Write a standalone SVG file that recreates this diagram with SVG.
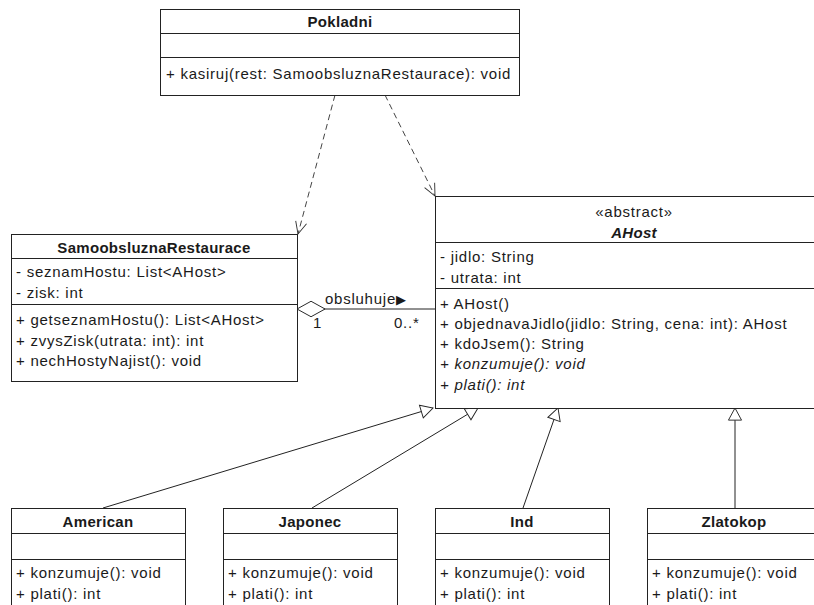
<svg xmlns="http://www.w3.org/2000/svg" width="814" height="605" viewBox="0 0 814 605">
<style>
text{font-family:"Liberation Sans",Arial,"DejaVu Sans",sans-serif;font-size:15px;letter-spacing:0.75px;fill:#1a1a1a}
.t{font-weight:bold;text-anchor:middle;letter-spacing:0.3px}
.c{text-anchor:middle}
.i{font-style:italic}
.bx{fill:#fff;stroke:#222;stroke-width:1}
.sep{stroke:#222;stroke-width:1}
.dep{stroke:#444;stroke-width:1;fill:none;stroke-dasharray:6,4;marker-end:url(#open)}
.gen{stroke:#222;stroke-width:1;fill:none;marker-end:url(#tri)}
.asc{stroke:#222;stroke-width:1;fill:none;marker-start:url(#dia)}
.arr{font-size:13px;letter-spacing:0}
</style>
<defs>
<marker id="tri" markerUnits="userSpaceOnUse" markerWidth="14" markerHeight="16" viewBox="-1 -1 15 16" refX="13" refY="7" orient="auto" overflow="visible"><path d="M0,0 L13,7 L0,14 Z" fill="#fff" stroke="#222" stroke-width="1"/></marker>
<marker id="open" markerUnits="userSpaceOnUse" markerWidth="14" markerHeight="14" viewBox="-1 -1 15 14" refX="13" refY="6" orient="auto" overflow="visible"><path d="M0,0 L13,6 L0,12" fill="none" stroke="#333" stroke-width="1"/></marker>
<marker id="dia" markerUnits="userSpaceOnUse" markerWidth="30" markerHeight="18" viewBox="-1 -1 31 18" refX="0" refY="8" orient="auto" overflow="visible"><path d="M0,8 L14.5,0 L29,8 L14.5,16 Z" fill="#fff" stroke="#222" stroke-width="1"/></marker>
</defs>
<g id="connectors">
<line class="dep" x1="335" y1="95" x2="298" y2="234"/>
<line class="dep" x1="385" y1="95" x2="435" y2="196"/>
<line class="gen" x1="103" y1="508" x2="433" y2="408"/>
<line class="gen" x1="312" y1="508" x2="478" y2="408"/>
<line class="gen" x1="523" y1="508" x2="558" y2="408"/>
<line class="gen" x1="735" y1="508" x2="735" y2="408"/>
<line class="asc" x1="297" y1="309" x2="435" y2="309"/>
<text x="325" y="304">obsluhuje<tspan class="arr">▶</tspan></text>
<text x="313" y="328">1</text>
<text x="394" y="328">0..*</text>
</g>
<g id="Pokladni">
<rect class="bx" x="160.5" y="9.5" width="359" height="86"/>
<line class="sep" x1="160" y1="33.5" x2="520" y2="33.5"/>
<line class="sep" x1="160" y1="57.5" x2="520" y2="57.5"/>
<text class="t" x="340" y="27">Pokladni</text>
<text x="166" y="79">+ kasiruj(rest: SamoobsluznaRestaurace): void</text>
</g>
<g id="SamoobsluznaRestaurace">
<rect class="bx" x="11.5" y="234.5" width="286" height="147"/>
<line class="sep" x1="11" y1="258.5" x2="298" y2="258.5"/>
<line class="sep" x1="11" y1="304.5" x2="298" y2="304.5"/>
<text class="t" x="154" y="253">SamoobsluznaRestaurace</text>
<text x="16" y="277">- seznamHostu: List&lt;AHost&gt;</text>
<text x="16" y="298">- zisk: int</text>
<text x="16" y="325">+ getseznamHostu(): List&lt;AHost&gt;</text>
<text x="16" y="346">+ zvysZisk(utrata: int): int</text>
<text x="16" y="366">+ nechHostyNajist(): void</text>
</g>
<g id="AHost">
<rect class="bx" x="435.5" y="196.5" width="398" height="212"/>
<line class="sep" x1="435" y1="242.5" x2="834" y2="242.5"/>
<line class="sep" x1="435" y1="288.5" x2="834" y2="288.5"/>
<text class="c" x="634" y="217">«abstract»</text>
<text class="t i" x="634" y="238">AHost</text>
<text x="440" y="262">- jidlo: String</text>
<text x="440" y="283">- utrata: int</text>
<text x="440" y="309">+ AHost()</text>
<text x="440" y="329">+ objednavaJidlo(jidlo: String, cena: int): AHost</text>
<text x="440" y="349">+ kdoJsem(): String</text>
<text class="i" x="440" y="369">+ konzumuje(): void</text>
<text class="i" x="440" y="390">+ plati(): int</text>
</g>
<g id="American">
<rect class="bx" x="11.5" y="508.5" width="174" height="110"/>
<line class="sep" x1="11" y1="533.5" x2="186" y2="533.5"/>
<line class="sep" x1="11" y1="559.5" x2="186" y2="559.5"/>
<text class="t" x="98" y="527">American</text>
<text x="16" y="578">+ konzumuje(): void</text>
<text x="16" y="599">+ plati(): int</text>
</g>
<g id="Japonec">
<rect class="bx" x="223.5" y="508.5" width="174" height="110"/>
<line class="sep" x1="223" y1="533.5" x2="398" y2="533.5"/>
<line class="sep" x1="223" y1="559.5" x2="398" y2="559.5"/>
<text class="t" x="310" y="527">Japonec</text>
<text x="228" y="578">+ konzumuje(): void</text>
<text x="228" y="599">+ plati(): int</text>
</g>
<g id="Ind">
<rect class="bx" x="435.5" y="508.5" width="174" height="110"/>
<line class="sep" x1="435" y1="533.5" x2="610" y2="533.5"/>
<line class="sep" x1="435" y1="559.5" x2="610" y2="559.5"/>
<text class="t" x="522" y="527">Ind</text>
<text x="440" y="578">+ konzumuje(): void</text>
<text x="440" y="599">+ plati(): int</text>
</g>
<g id="Zlatokop">
<rect class="bx" x="647.5" y="508.5" width="174" height="110"/>
<line class="sep" x1="647" y1="533.5" x2="822" y2="533.5"/>
<line class="sep" x1="647" y1="559.5" x2="822" y2="559.5"/>
<text class="t" x="734" y="527">Zlatokop</text>
<text x="652" y="578">+ konzumuje(): void</text>
<text x="652" y="599">+ plati(): int</text>
</g>
</svg>
